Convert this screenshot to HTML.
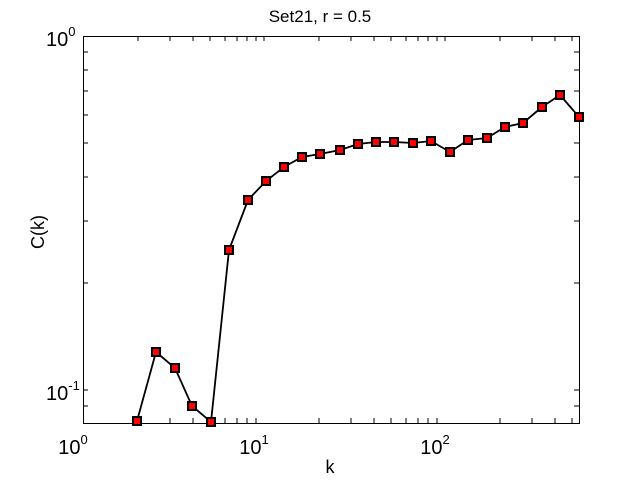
<!DOCTYPE html>
<html><head><style>
body{margin:0;background:#fff;}
svg{display:block;font-family:"Liberation Sans",sans-serif;}
</style></head><body>
<svg width="640" height="480" viewBox="0 0 640 480">
<rect width="640" height="480" fill="#fff"/>
<g stroke="#000" stroke-width="1" fill="none">
<rect x="83.5" y="36.5" width="496" height="387"/>
<path d="
M138,423v-5M170,423v-5M193,423v-5M210,423v-5M225,423v-5M237,423v-5M247,423v-5M256,423v-5
M319,423v-5M351,423v-5M374,423v-5M391,423v-5M406,423v-5M418,423v-5M428,423v-5M437,423v-5
M500,423v-5M532,423v-5M555,423v-5M572,423v-5
M138,36v5M170,36v5M193,36v5M210,36v5M225,36v5M237,36v5M247,36v5M256,36v5M264,36v5
M319,36v5M351,36v5M374,36v5M391,36v5M406,36v5M418,36v5M428,36v5M437,36v5M445,36v5
M500,36v5M532,36v5M555,36v5M572,36v5
M83,406h5M83,390h5M83,283h5M83,221h5M83,177h5M83,143h5M83,115h5M83,91h5M83,70h5M83,52h5
M579,406h-5M579,390h-5M579,283h-5M579,221h-5M579,177h-5M579,143h-5M579,115h-5M579,91h-5M579,70h-5M579,52h-5"/>
</g>
<polyline fill="none" stroke="#000" stroke-width="1.8" points="137,421 156,352 175,368 192,406 211,422 229,250 248,200 266,181 284,167 302,157 320,154 340,150 358,144 376,142 394,142 413,143 431,141 450,152 468,140 487,138 505,127 523,123 542,107 560,95 579,117"/>
<g fill="#f00" stroke="#000" stroke-width="2">
<rect x="133" y="417" width="8" height="8"/><rect x="152" y="348" width="8" height="8"/><rect x="171" y="364" width="8" height="8"/><rect x="188" y="402" width="8" height="8"/><rect x="207" y="418" width="8" height="8"/><rect x="225" y="246" width="8" height="8"/><rect x="244" y="196" width="8" height="8"/><rect x="262" y="177" width="8" height="8"/><rect x="280" y="163" width="8" height="8"/><rect x="298" y="153" width="8" height="8"/><rect x="316" y="150" width="8" height="8"/><rect x="336" y="146" width="8" height="8"/><rect x="354" y="140" width="8" height="8"/><rect x="372" y="138" width="8" height="8"/><rect x="390" y="138" width="8" height="8"/><rect x="409" y="139" width="8" height="8"/><rect x="427" y="137" width="8" height="8"/><rect x="446" y="148" width="8" height="8"/><rect x="464" y="136" width="8" height="8"/><rect x="483" y="134" width="8" height="8"/><rect x="501" y="123" width="8" height="8"/><rect x="519" y="119" width="8" height="8"/><rect x="538" y="103" width="8" height="8"/><rect x="556" y="91" width="8" height="8"/><rect x="575" y="113" width="8" height="8"/>
</g>
<g font-size="20" fill="#000">
<text x="320" y="22" text-anchor="middle" font-size="17">Set21, r = 0.5</text>
<text x="330" y="473" text-anchor="middle" font-size="18">k</text>
<text x="44" y="232" text-anchor="middle" font-size="18" transform="rotate(-90 44 232)">C(k)</text>
<text x="73" y="454" text-anchor="middle">10<tspan font-size="13" dy="-10">0</tspan></text>
<text x="254" y="454" text-anchor="middle">10<tspan font-size="13" dy="-10">1</tspan></text>
<text x="435" y="454" text-anchor="middle">10<tspan font-size="13" dy="-10">2</tspan></text>
<text x="46" y="46">10<tspan font-size="13" dy="-10">0</tspan></text>
<text x="46" y="400">10<tspan font-size="13" dy="-10">-1</tspan></text>
</g>
</svg>
</body></html>
